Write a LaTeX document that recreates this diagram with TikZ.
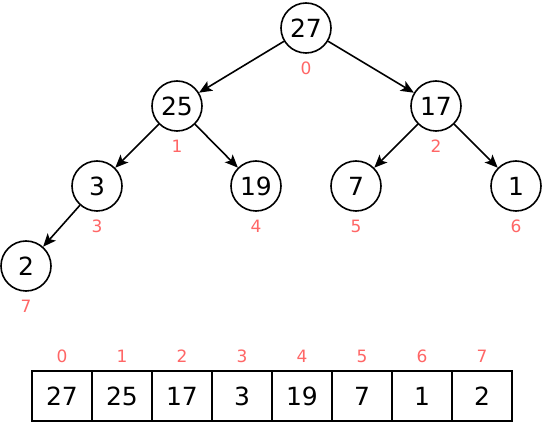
\documentclass[tikz,border=0pt]{standalone}
\usepackage{fontspec}
\setmainfont{DejaVu Sans}
\usetikzlibrary{arrows.meta}
\definecolor{idxred}{RGB}{255,102,102}

\begin{document}
\begin{tikzpicture}[x=1pt, y=-1pt,
        heapnode/.style={circle, draw, line width=1.6pt, minimum size=50pt, inner sep=0pt, font=\fontsize{25}{25}\selectfont},
        idx/.style={text=idxred, inner sep=0pt, font=\fontsize{17}{17}\selectfont},
        cell/.style={draw, line width=1.6pt, minimum width=60pt, minimum height=50pt, inner sep=0pt, font=\fontsize{25}{25}\selectfont},
        heaplink/.style={-{Stealth[length=13pt, width=11pt, inset=3pt]}, line width=1.6pt}]
        \useasboundingbox (0, 0) rectangle (542, 422);

        % tree
        \foreach \v/\i/\x/\y in {27/0/306/28, 25/1/177/106, 17/2/436/106, 3/3/97/186,
                19/4/256/186, 7/5/356/186, 1/6/516/186, 2/7/26/266} {
            \node[heapnode] (n\i) at (\x, \y) {\v};
            \node[idx] (ni\i) at (\x, \y + 40) {\i};
        }
        \draw[heaplink] (n0) -- (n1);
        \draw[heaplink] (n0) -- (n2);
        \draw[heaplink] (n1) -- (n3);
        \draw[heaplink] (n1) -- (n4);
        \draw[heaplink] (n2) -- (n5);
        \draw[heaplink] (n2) -- (n6);
        \draw[heaplink] (n3) -- (n7);

        % array
        \foreach \v [count=\i from 0] in {27, 25, 17, 3, 19, 7, 1, 2} {
            \node[cell] (c\i) at (62 + 60*\i, 396) {\v};
            \node[idx] (ci\i) at (62 + 60*\i, 356) {\i};
        }
    \end{tikzpicture}
\end{document}
